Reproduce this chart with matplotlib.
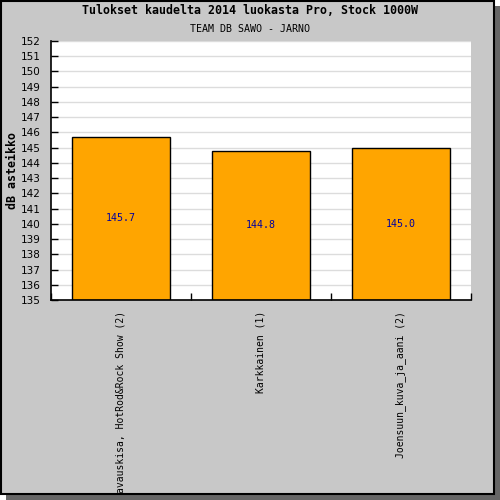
import matplotlib
matplotlib.use("Agg")
import matplotlib.pyplot as plt
from matplotlib.patches import Rectangle

# data
categories = ["avauskisa, HotRod&Rock Show (2)", "Karkkainen (1)", "Joensuun_kuva_ja_aani (2)"]
values = [145.7, 144.8, 145.0]
y_min, y_max = 135, 152

title = "Tulokset kaudelta 2014 luokasta Pro, Stock 1000W"
subtitle = "TEAM DB SAWO - JARNO"
ylabel = "dB asteikko"

W = 500.0
fig = plt.figure(figsize=(5, 5), dpi=100, facecolor="white")

# drop shadow + grey panel with black border
fig.patches.append(Rectangle((6 / W, 0), 494 / W, 494 / W, transform=fig.transFigure,
                             facecolor="#666666", edgecolor="none", zorder=-2))
fig.patches.append(Rectangle((1 / W, 6 / W), 493 / W, 493 / W, transform=fig.transFigure,
                             facecolor="#c8c8c8", edgecolor="black", linewidth=1.5, zorder=-1))

fig.text(0.5, 1 - 11 / W, title, ha="center", va="center", family="DejaVu Sans Mono",
         fontweight="bold", fontsize=8.4)
fig.text(0.5, 1 - 29 / W, subtitle, ha="center", va="center", family="DejaVu Sans Mono",
         fontsize=7.2)

ax = fig.add_axes([50.5 / W, 200 / W, 420.5 / W, 259 / W])
ax.set_facecolor("white")

x = list(range(len(categories)))
ax.bar(x, [v - y_min for v in values], bottom=y_min, width=0.7,
       color="#ffa500", edgecolor="black", linewidth=1, zorder=2)

for xi, v in zip(x, values):
    ax.text(xi, (y_min + v) / 2, "%.1f" % v, ha="center", va="center",
            family="DejaVu Sans Mono", fontsize=7.2, color="#0000a0", zorder=3)

ax.set_xlim(-0.5, len(categories) - 0.5)
ax.set_ylim(y_min, y_max)
ax.set_yticks(range(y_min, y_max + 1))
ax.grid(axis="y", color="#dcdcdc", linewidth=1, zorder=0)
ax.set_axisbelow(True)

for s in ["top", "right"]:
    ax.spines[s].set_visible(False)
for s in ["left", "bottom"]:
    ax.spines[s].set_linewidth(1.2)

ax.tick_params(axis="y", direction="in", length=5, width=1, pad=7, labelsize=7.5)
for lab in ax.get_yticklabels():
    lab.set_family("DejaVu Sans")

ax.set_xticks(x)
ax.set_xticklabels(categories, rotation=90, family="DejaVu Sans Mono", fontsize=7, va="top")
ax.tick_params(axis="x", which="major", length=0, pad=8)
ax.set_xticks([i - 0.5 for i in range(len(categories) + 1)], minor=True)
ax.tick_params(axis="x", which="minor", direction="in", length=5, width=1)

ax.set_ylabel(ylabel, family="DejaVu Sans Mono", fontweight="bold", fontsize=8.4)
ax.yaxis.set_label_coords(-31 / 420.5, 0.5)

fig.savefig("out.png", dpi=100, facecolor="white")
